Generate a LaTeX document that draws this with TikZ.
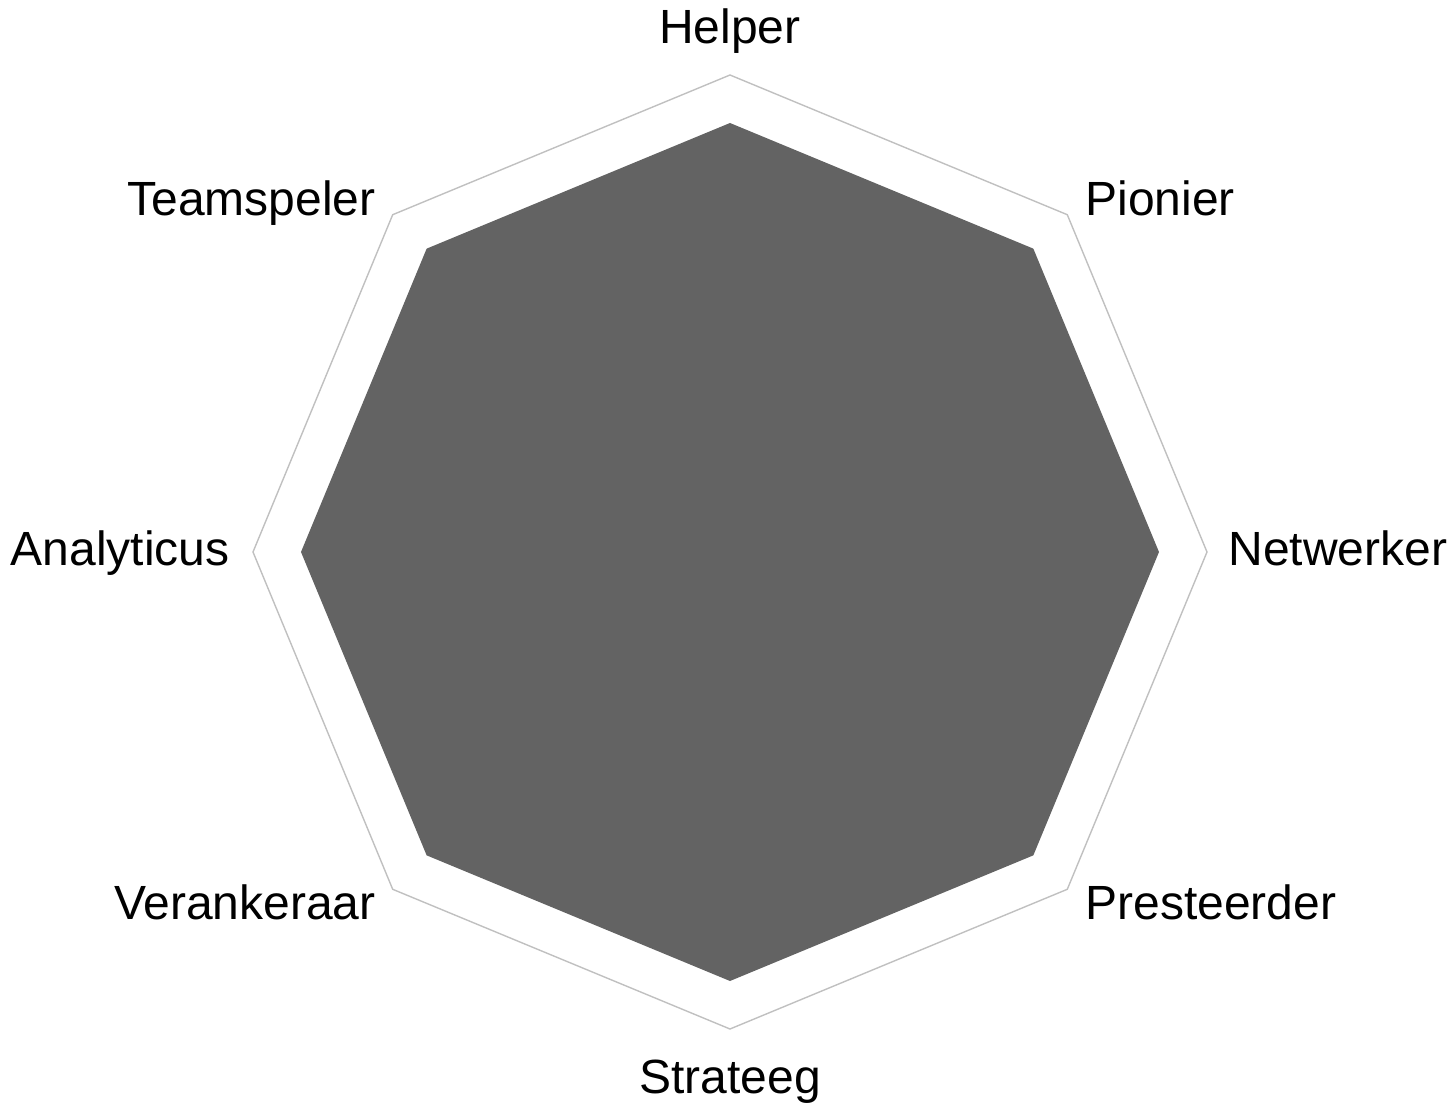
\documentclass[tikz,border=0pt]{standalone}
\usepackage{fontspec}
\setmainfont{Liberation Sans}
\usepackage{tikz}
\usetikzlibrary{calc,positioning}

\definecolor{gridgray}{HTML}{C0C0C0}
\definecolor{scoregray}{HTML}{636363}

\tikzset{
    rolelabel/.style={inner sep=0pt,font=\fontsize{24}{29}\selectfont},
    gridline/.style={draw=gridgray,line width=0.7pt,line join=miter},
    scorearea/.style={fill=scoregray}
}

\begin{document}
\begin{tikzpicture}[x=0.5pt,y=0.5pt]
    \useasboundingbox (-730,-552) rectangle (721,552);
    % corners of the outer and inner octagon
    \foreach \i in {0,...,7}{
        \coordinate (outer\i) at (90-45*\i:477);
        \coordinate (inner\i) at (90-45*\i:429);
    }
    %
    \draw[gridline] (outer0) -- (outer1) -- (outer2) -- (outer3) -- (outer4) -- (outer5) -- (outer6) -- (outer7) -- cycle;
    \path[scorearea] (inner0) -- (inner1) -- (inner2) -- (inner3) -- (inner4) -- (inner5) -- (inner6) -- (inner7) -- cycle;
    %
    \node[rolelabel,anchor=base] (Helper) at (0,508) {Helper};
    \node[rolelabel,anchor=base west] (Pionier) at (355,336) {Pionier};
    \node[rolelabel,anchor=base west] (Netwerker) at (498,-13) {Netwerker};
    \node[rolelabel,anchor=base west] (Presteerder) at (355,-367) {Presteerder};
    \node[rolelabel,anchor=base] (Strateeg) at (0,-541) {Strateeg};
    \node[rolelabel,anchor=base east] (Verankeraar) at (-354,-367) {Verankeraar};
    \node[rolelabel,anchor=base east] (Analyticus) at (-500,-13) {Analyticus};
    \node[rolelabel,anchor=base east] (Teamspeler) at (-354,336) {Teamspeler};
\end{tikzpicture}
\end{document}
